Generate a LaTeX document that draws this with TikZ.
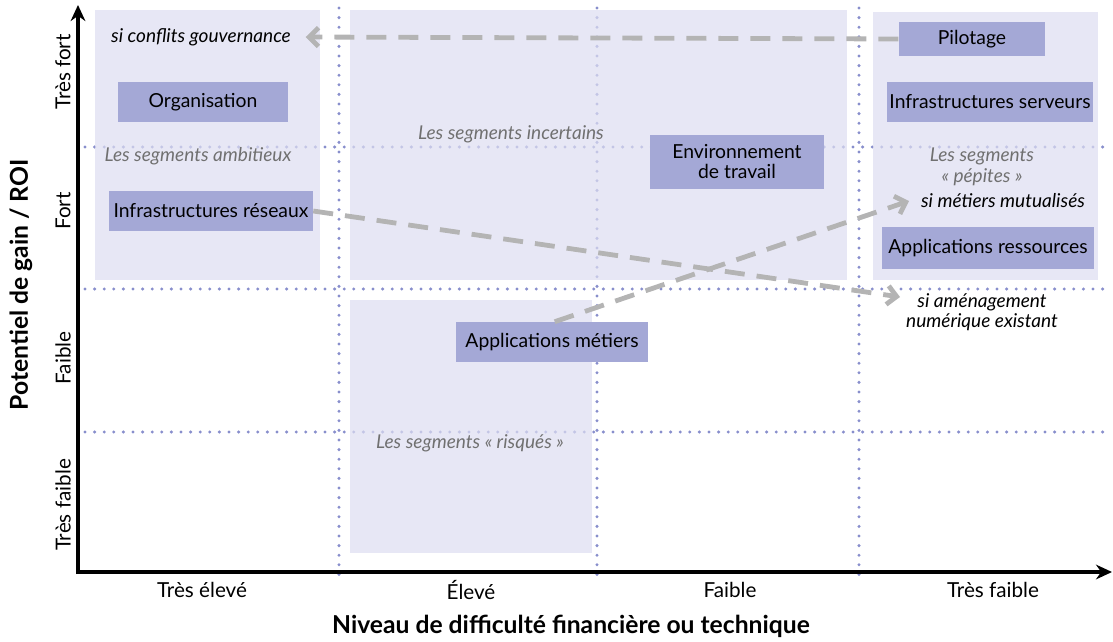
\documentclass[tikz,border=0pt]{standalone}
\usepackage{fontspec}
\setmainfont{Lato}
\usetikzlibrary{arrows.meta}
\definecolor{shadecol}{RGB}{221,221,241}
\definecolor{boxcol}{RGB}{164,168,214}
\definecolor{dotcol}{RGB}{136,142,204}
\definecolor{arrcol}{RGB}{180,180,180}
\definecolor{segcol}{RGB}{112,112,112}
\tikzset{
  dotline/.style={draw=dotcol, line width=2.5pt, line cap=round, dash pattern=on 0pt off 7.2pt},
  shadebox/.style={fill=shadecol, fill opacity=0.7, draw=none},
  itembox/.style={fill=boxcol, inner sep=0pt, align=center, font=\fontsize{14.5}{15}\selectfont},
  seglabel/.style={text=segcol, font=\fontsize{14.3}{15.5}\selectfont\itshape, align=center, inner sep=1pt},
  condlabel/.style={text=black, font=\fontsize{14.3}{15}\selectfont\itshape, align=center, inner sep=1pt},
  ticklabel/.style={font=\fontsize{15.5}{16}\selectfont, inner sep=0pt},
  axtitle/.style={font=\fontsize{18.5}{20}\selectfont\bfseries, inner sep=0pt},
  garrow/.style={draw=arrcol, line width=3.6pt, dash pattern=on 15pt off 9pt, -{Straight Barb[length=7pt,width=14pt]}},
  axisline/.style={line width=3pt, -{Stealth[length=12pt,width=11pt]}}
}
\begin{document}
\begin{tikzpicture}[x=0.75pt,y=-0.75pt]
\useasboundingbox (0,0) rectangle (1113,642);
% dotted grid
\draw[dotline] (339,8) -- (339,575);
\draw[dotline] (597,8) -- (597,575);
\draw[dotline] (859,8) -- (859,575);
\draw[dotline] (85,147) -- (1110,147);
\draw[dotline] (85,289) -- (1110,289);
\draw[dotline] (85,432) -- (1110,432);
% shaded zones
\fill[shadebox] (95,10) rectangle (320,280);
\fill[shadebox] (350,10) rectangle (847,280);
\fill[shadebox] (873,12) rectangle (1098,280);
\fill[shadebox] (350,300) rectangle (592,553);
% axes
\coordinate (ybot) at (78,574);
\coordinate (ytop) at (78,5);
\coordinate (xbeg) at (76,572);
\coordinate (xend) at (1112,572);
\draw[axisline] (ybot) -- (ytop);
\draw[axisline] (xbeg) -- (xend);
% tick labels
\node[ticklabel, rotate=90] (yt1) at (63,72) {Très fort};
\node[ticklabel, rotate=90] (yt2) at (63,211) {Fort};
\node[ticklabel, rotate=90] (yt3) at (63,358) {Faible};
\node[ticklabel, rotate=90] (yt4) at (63,505) {Très faible};
\node[ticklabel] (xt1) at (202,590) {Très élevé};
\node[ticklabel] (xt2) at (471,590) {Élevé};
\node[ticklabel] (xt3) at (730,590) {Faible};
\node[ticklabel] (xt4) at (993,590) {Très faible};
\node[axtitle, rotate=90] (ytitle) at (21,285) {Potentiel de gain / ROI};
\node[axtitle] (xtitle) at (571,626) {Niveau de difficulté financière ou technique};
% segment labels
\node[seglabel] (segamb) at (198,156) {Les segments ambitieux};
\node[seglabel] (seginc) at (511,134) {Les segments incertains};
\node[seglabel] (segpep) at (982,167) {Les segments\\« pépites »};
\node[seglabel] (segris) at (470,443) {Les segments « risqués »};
% condition labels
\node[condlabel] (conf) at (201,37) {si conflits gouvernance};
\node[condlabel] (mutu) at (1003,201) {si métiers mutualisés};
\node[condlabel] (amen) at (982,312) {si aménagement\\numérique existant};
\coordinate (amentip) at (900,297);
\coordinate (mututip) at (909,201);
% items
\node[itembox, minimum width=127.5pt, minimum height=30pt] (org) at (203,102) {Organisation};
\node[itembox, minimum width=153pt, minimum height=30pt] (ires) at (211,211) {Infrastructures réseaux};
\node[itembox, minimum width=131pt, minimum height=41pt] (env) at (737,162) {Environnement\\de travail};
\node[itembox, minimum width=144pt, minimum height=30pt] (appm) at (552,342) {Applications métiers};
\node[itembox, minimum width=110pt, minimum height=26pt] (pil) at (972,39) {Pilotage};
\node[itembox, minimum width=155pt, minimum height=30pt] (iser) at (990,102) {Infrastructures serveurs};
\node[itembox, minimum width=159pt, minimum height=32pt] (appr) at (988,248) {Applications ressources};
% arrows
\draw[garrow] (pil.west) -- ([xshift=10pt]conf.east);
\draw[garrow] (ires.east) -- (amentip);
\draw[garrow] ([xshift=2pt]appm.north) -- (mututip);
\end{tikzpicture}
\end{document}
